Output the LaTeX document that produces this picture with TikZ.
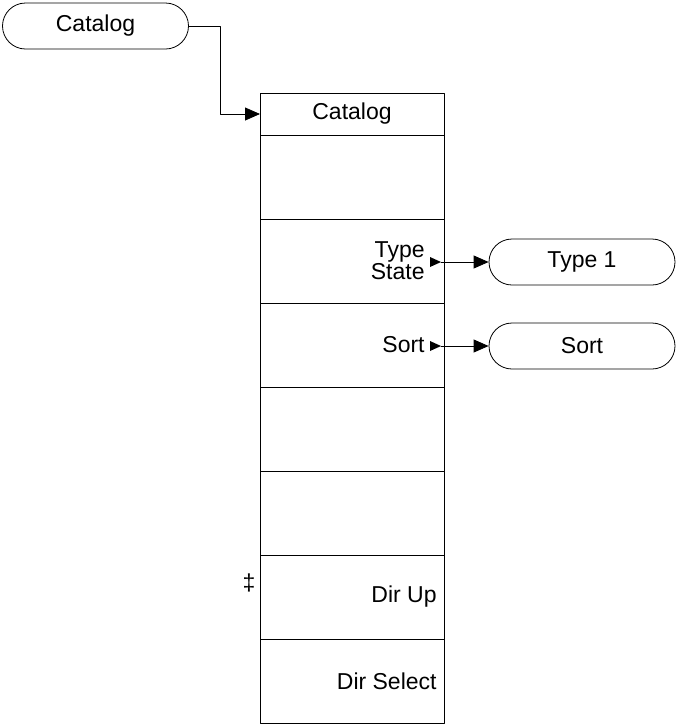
\documentclass[tikz,border=0pt]{standalone}
\usepackage{fontspec}
\setmainfont{Liberation Sans}
\usetikzlibrary{arrows.meta,shapes.misc}

\begin{document}
\begin{tikzpicture}[
  x=1pt, y=-1pt, line cap=round, line join=round,
  line width=0.8pt,
  >={Triangle[length=15pt,width=13pt]},
  every node/.style={font=\fontsize{23}{22}\selectfont},
  softkey/.style={draw, rounded rectangle, minimum width=186pt,
                  minimum height=46pt, inner sep=0pt},
  hdrbox/.style={draw, minimum width=184pt, minimum height=42pt,
                 inner sep=0pt, outer sep=0pt},
  keybox/.style={draw, minimum width=184pt, minimum height=84pt,
                 inner sep=0pt, outer sep=0pt},
  lbl/.style={anchor=east, align=right, inner sep=0pt}
]
  \useasboundingbox (0,0) rectangle (677,724);

  % ── Entry key ─────────────────────────────────────────────────────────────

  \node[softkey] (catkey) at (95.5,26) {Catalog};

  % ── Menu column ───────────────────────────────────────────────────────────

  \node[hdrbox] (hdr) at (352,114) {Catalog};
  \foreach \i in {1,...,7}
    \node[keybox] (k\i) at (352, 93+84*\i) {};

  \draw[->] (catkey.east) -- ++(31,0) |- (hdr.west);

  % Key labels
  \node[lbl] (typelbl) at ([xshift=-19pt]k2.east) {Type\\State};
  \node[lbl] (sortlbl) at ([xshift=-19pt]k3.east) {Sort};
  \node[lbl] (uplbl)   at ([xshift=-7pt]k6.east)  {Dir Up};
  \node[lbl] (sellbl)  at ([xshift=-7pt]k7.east)  {Dir Select};
  \node (ddag) at (249,583) {‡};

  % Submenu markers
  \coordinate (typetip) at (441,262);
  \coordinate (sorttip) at (441,346);
  \foreach \t in {typetip,sorttip}
    \fill (\t) -- ++(-11,-5) -- ++(0,10) -- cycle;

  % ── Submenus ──────────────────────────────────────────────────────────────

  \node[softkey] (typekey) at (582,262) {Type 1};
  \node[softkey] (sortkey) at (582,346) {Sort};

  \draw[->] (typetip) -- (typekey.west);
  \draw[->] (sorttip) -- (sortkey.west);

\end{tikzpicture}
\end{document}
